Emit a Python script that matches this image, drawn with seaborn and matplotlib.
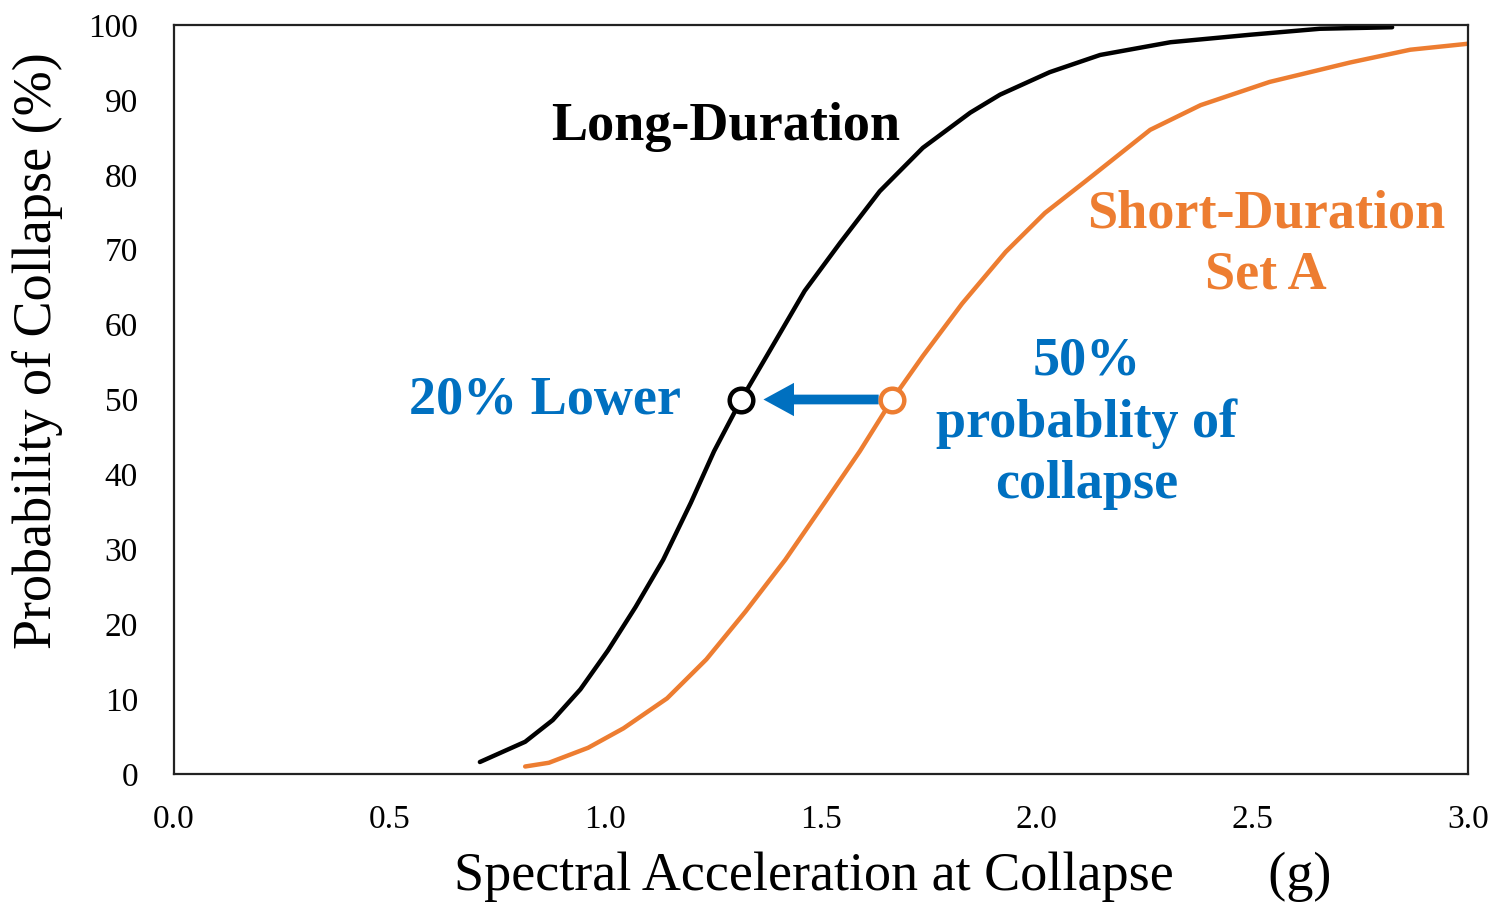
import numpy as np
import pandas as pd
import matplotlib
matplotlib.use("Agg")
import matplotlib.pyplot as plt
import seaborn as sns

# Fragility curves: spectral acceleration (g) vs probability of collapse (%)
long_sa = [0.709, 0.814, 0.878, 0.942, 1.006, 1.070, 1.134, 1.198, 1.252, 1.315,
           1.380, 1.462, 1.544, 1.636, 1.736, 1.846, 1.915, 2.03, 2.147, 2.31,
           2.495, 2.657, 2.824]
long_p = [1.6, 4.3, 7.2, 11.3, 16.5, 22.3, 28.6, 36.2, 43.1, 50.0,
          56.4, 64.5, 70.9, 77.8, 83.6, 88.3, 90.7, 93.7, 96.0, 97.7,
          98.7, 99.5, 99.7]

short_sa = [0.814, 0.869, 0.960, 1.042, 1.143, 1.234, 1.325, 1.417, 1.508, 1.590,
            1.665, 1.736, 1.827, 1.928, 2.019, 2.110, 2.263, 2.38, 2.54, 2.727,
            2.866, 3.0]
short_p = [1.0, 1.5, 3.5, 6.1, 10.1, 15.3, 21.7, 28.6, 36.2, 43.1,
           50.0, 55.8, 62.8, 69.7, 74.9, 79.0, 86.0, 89.3, 92.4, 95.0,
           96.7, 97.5]

# Median collapse intensities (50 % probability)
median_long = 1.315
median_short = 1.665
median_p = 50

x_ticks = [0.0, 0.5, 1.0, 1.5, 2.0, 2.5, 3.0]
y_ticks = [0, 10, 20, 30, 40, 50, 60, 70, 80, 90, 100]

BLACK = "#000000"
ORANGE = "#ED7D31"
BLUE = "#0070C0"

sns.set_theme(style="white")
plt.rcParams["font.family"] = ["Liberation Serif", "DejaVu Serif"]

df = pd.concat([
    pd.DataFrame({"sa": long_sa, "p": long_p, "set": "Long-Duration"}),
    pd.DataFrame({"sa": short_sa, "p": short_p, "set": "Short-Duration Set A"}),
])

fig = plt.figure(figsize=(14.98, 9.06), dpi=100)
ax = fig.add_axes([0.1162, 0.1457, 0.8638, 0.8267])

sns.lineplot(data=df, x="sa", y="p", hue="set", sort=False,
             palette={"Long-Duration": BLACK, "Short-Duration Set A": ORANGE},
             linewidth=3.2, legend=False, ax=ax)

# Arrow between the two medians
ax.annotate("", xy=(1.36, median_p), xytext=(1.64, median_p),
            arrowprops=dict(arrowstyle="simple,head_length=1.1,head_width=1.2,tail_width=0.35",
                            mutation_scale=20, color=BLUE, lw=0), zorder=4)

ax.plot([median_long], [median_p], marker="o", ms=17, mfc="white", mec=BLACK, mew=3.2, zorder=5)
ax.plot([median_short], [median_p], marker="o", ms=17, mfc="white", mec=ORANGE, mew=3.2, zorder=5)

ax.set_xlim(0, 3.0)
ax.set_ylim(0, 100)
ax.set_xticks(x_ticks)
ax.set_xticklabels([f"{v:.1f}" for v in x_ticks])
ax.set_yticks(y_ticks)
ax.set_yticklabels([str(v) for v in y_ticks])
ax.tick_params(axis="x", length=0, labelsize=24, pad=22, colors=BLACK)
ax.tick_params(axis="y", length=0, labelsize=24, pad=26, colors=BLACK)

for s in ax.spines.values():
    s.set_color("#222222")
    s.set_linewidth(1.6)

ax.set_xlabel("Spectral Acceleration at Collapse       (g)", fontsize=39, color=BLACK)
ax.xaxis.set_label_coords(0.555, -0.104)
ax.set_ylabel("Probability of Collapse (%)", fontsize=39, color=BLACK)
ax.yaxis.set_label_coords(-0.086, 0.565)

bold = dict(fontweight="bold", fontsize=39, ha="center", va="center")
ax.text(1.28, 86.4, "Long-Duration", color=BLACK, **bold)
ax.text(2.532, 70.6, "Short-Duration\nSet A", color=ORANGE, linespacing=1.3, **bold)
ax.text(0.86, 49.8, "20% Lower", color=BLUE, **bold)
ax.text(2.115, 46.8, "50%\nprobablity of\ncollapse", color=BLUE, linespacing=1.3, **bold)

fig.savefig("out.png", dpi=100, facecolor="white")
